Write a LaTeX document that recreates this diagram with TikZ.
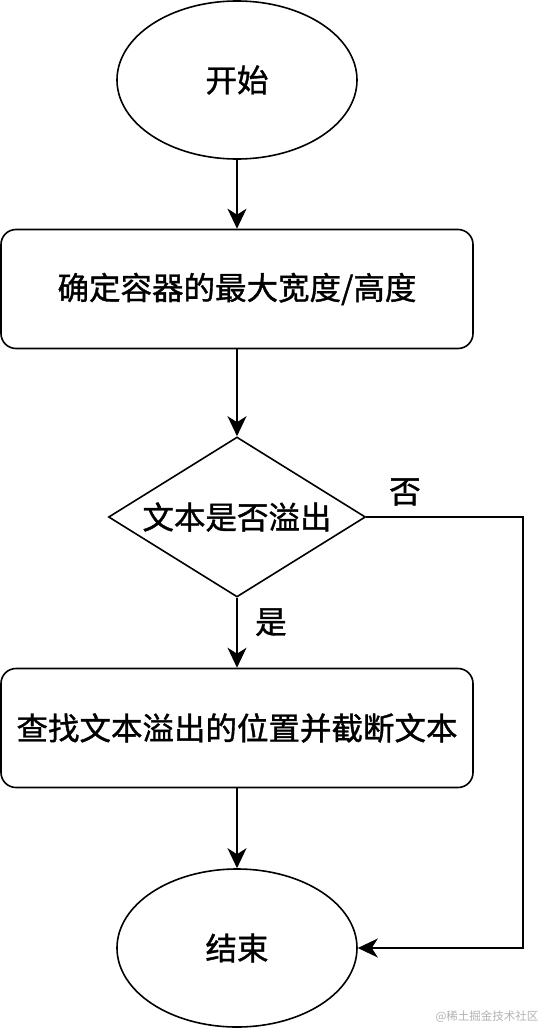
\documentclass[tikz,border=0pt]{standalone}
\usepackage{fontspec}
\setmainfont{Noto Sans CJK SC}
\newfontfamily\cjkfont{Noto Sans CJK SC}[RawFeature={embolden=1.2}]
\usetikzlibrary{shapes.geometric,arrows.meta}
\tikzset{
  terminal/.style={draw,ellipse,line width=1.6pt,minimum width=240pt,minimum height=158pt,inner sep=0pt},
  process/.style={draw,rectangle,rounded corners=15pt,line width=1.6pt,minimum width=472pt,minimum height=119pt,inner sep=0pt},
  decision/.style={draw,diamond,aspect=1.6,line width=1.6pt,minimum width=257pt,minimum height=160pt,inner sep=0pt},
  flow/.style={-{Stealth[length=20pt,width=19pt,inset=6pt]},line width=1.6pt},
  cjk/.style={font=\cjkfont\fontsize{31.5}{36}\selectfont}
}
\begin{document}
\begin{tikzpicture}[x=1pt,y=-1pt]
    \useasboundingbox (0,0) rectangle (546,1030);
    % blocchi
    \node[terminal,cjk] (start) at (237,80) {开始};
    \node[process,cjk] (limit) at (237,289) {确定容器的最大宽度/高度};
    \node[decision,cjk] (check) at (237,517) {文本是否溢出};
    \node[process,cjk] (cut) at (237,728) {查找文本溢出的位置并截断文本};
    \node[terminal,cjk] (stop) at (237,948) {结束};
    % frecce
    \draw[flow] (start) -- (limit);
    \draw[flow] (limit) -- (check);
    \draw[flow] (check) -- (cut) node[cjk,pos=0.35,right=14pt] (yes) {是};
    \draw[flow] (cut) -- (stop);
    % ramo "no"
    \coordinate (turn) at (523,517);
    \node[cjk] (no) at (405,492) {否};
    \draw[flow] (check.east) -- (turn) |- (stop.east);
    % filigrana
    \node[anchor=east,text=black!30,font=\fontsize{11.5}{13}\selectfont] (mark) at (542,1017) {@稀土掘金技术社区};
\end{tikzpicture}
\end{document}
